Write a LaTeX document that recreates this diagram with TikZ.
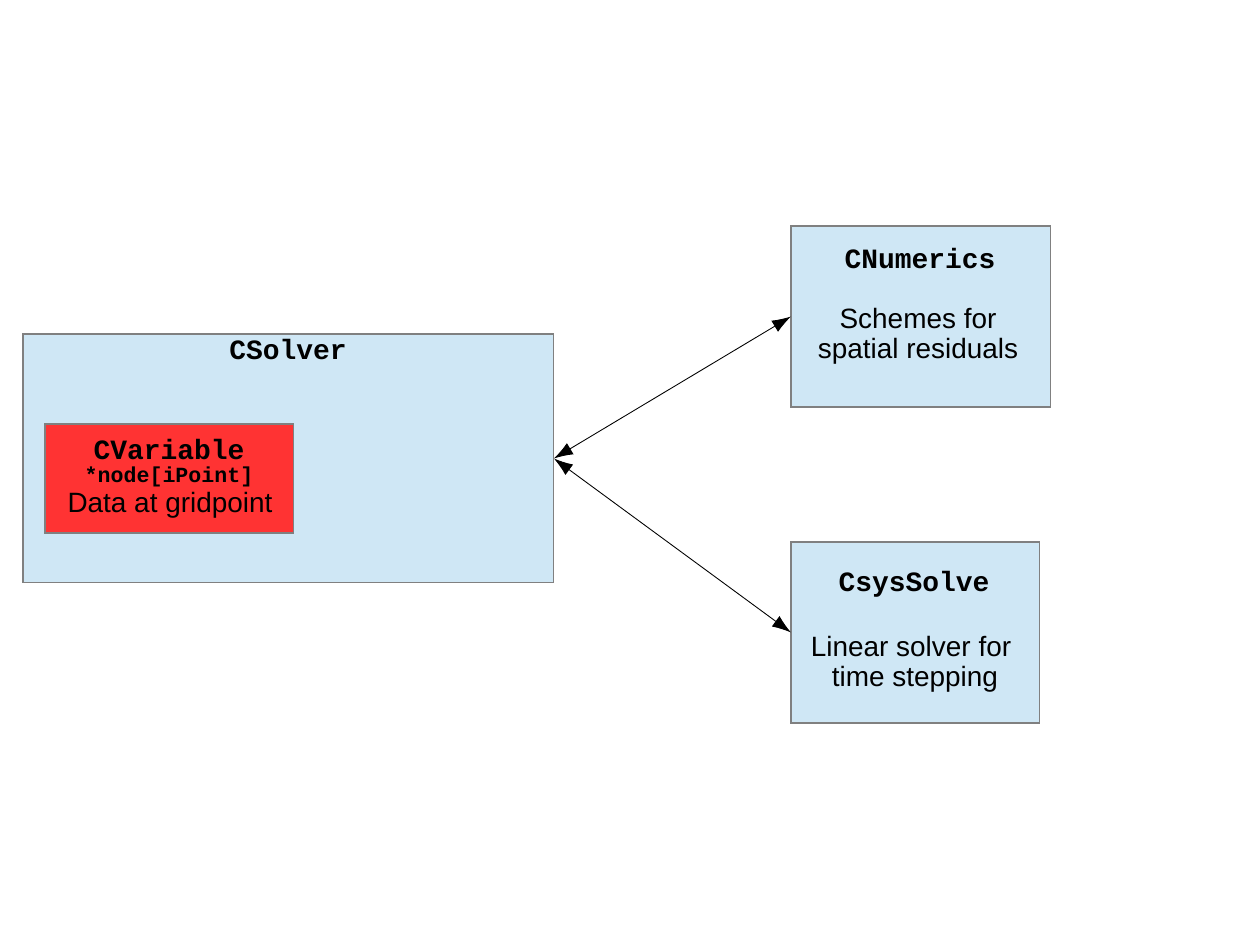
\documentclass[tikz,border=0pt]{standalone}
\usepackage{fontspec}
\setmainfont{Liberation Sans}
\newfontfamily\monof{Liberation Mono}
\usetikzlibrary{arrows.meta}
\definecolor{lightblue}{HTML}{CFE7F5}
\definecolor{boxgray}{HTML}{808080}
\definecolor{boxred}{HTML}{FF3333}
\begin{document}
\begin{tikzpicture}[x=0.02cm,y=-0.02cm,
  box/.style={draw=boxgray, fill=lightblue, line width=0.6pt, inner sep=0pt, outer sep=0pt, anchor=north west},
  redbox/.style={box, fill=boxred},
  title/.style={font=\monof\bfseries\fontsize{15.9}{17}\selectfont, inner sep=0pt},
  small/.style={font=\monof\bfseries\fontsize{12.3}{14}\selectfont, inner sep=0pt},
  body/.style={font=\fontsize{15.9}{17}\selectfont, align=center, inner sep=0pt},
  link/.style={{Latex[length=0.38cm,width=0.26cm]}-{Latex[length=0.38cm,width=0.26cm]}, line width=0.5pt}
]
\useasboundingbox (0,0) rectangle (1246,934);
\node[box, minimum width=10.62cm, minimum height=4.98cm] (solver) at (23,334) {};
\node[redbox, minimum width=4.98cm, minimum height=2.18cm] (variable) at (45,424) {};
\node[box, minimum width=5.2cm, minimum height=3.62cm] (numerics) at (791,226) {};
\node[box, minimum width=4.98cm, minimum height=3.62cm] (syssolve) at (791,542) {};

\node[title] (tsolver) at (288,350) {CSolver};
\node[title] (tvariable) at (169,450) {CVariable};
\node[small] (tnode) at (169,477) {*node[iPoint]};
\node[body] (tdata) at (170,505) {Data at gridpoint};

\node[title] (tnumerics) at (920,259) {CNumerics};
\node[body] (tschemes) at (918,336) {Schemes for\\spatial residuals};

\node[title] (tsyssolve) at (914,584) {CsysSolve};
\node[body] (tlinear) at (911,664) {Linear solver for\\\ time stepping};

\draw[link] (solver.east) -- (numerics.west);
\draw[link] (solver.east) -- (syssolve.west);
\end{tikzpicture}
\end{document}
